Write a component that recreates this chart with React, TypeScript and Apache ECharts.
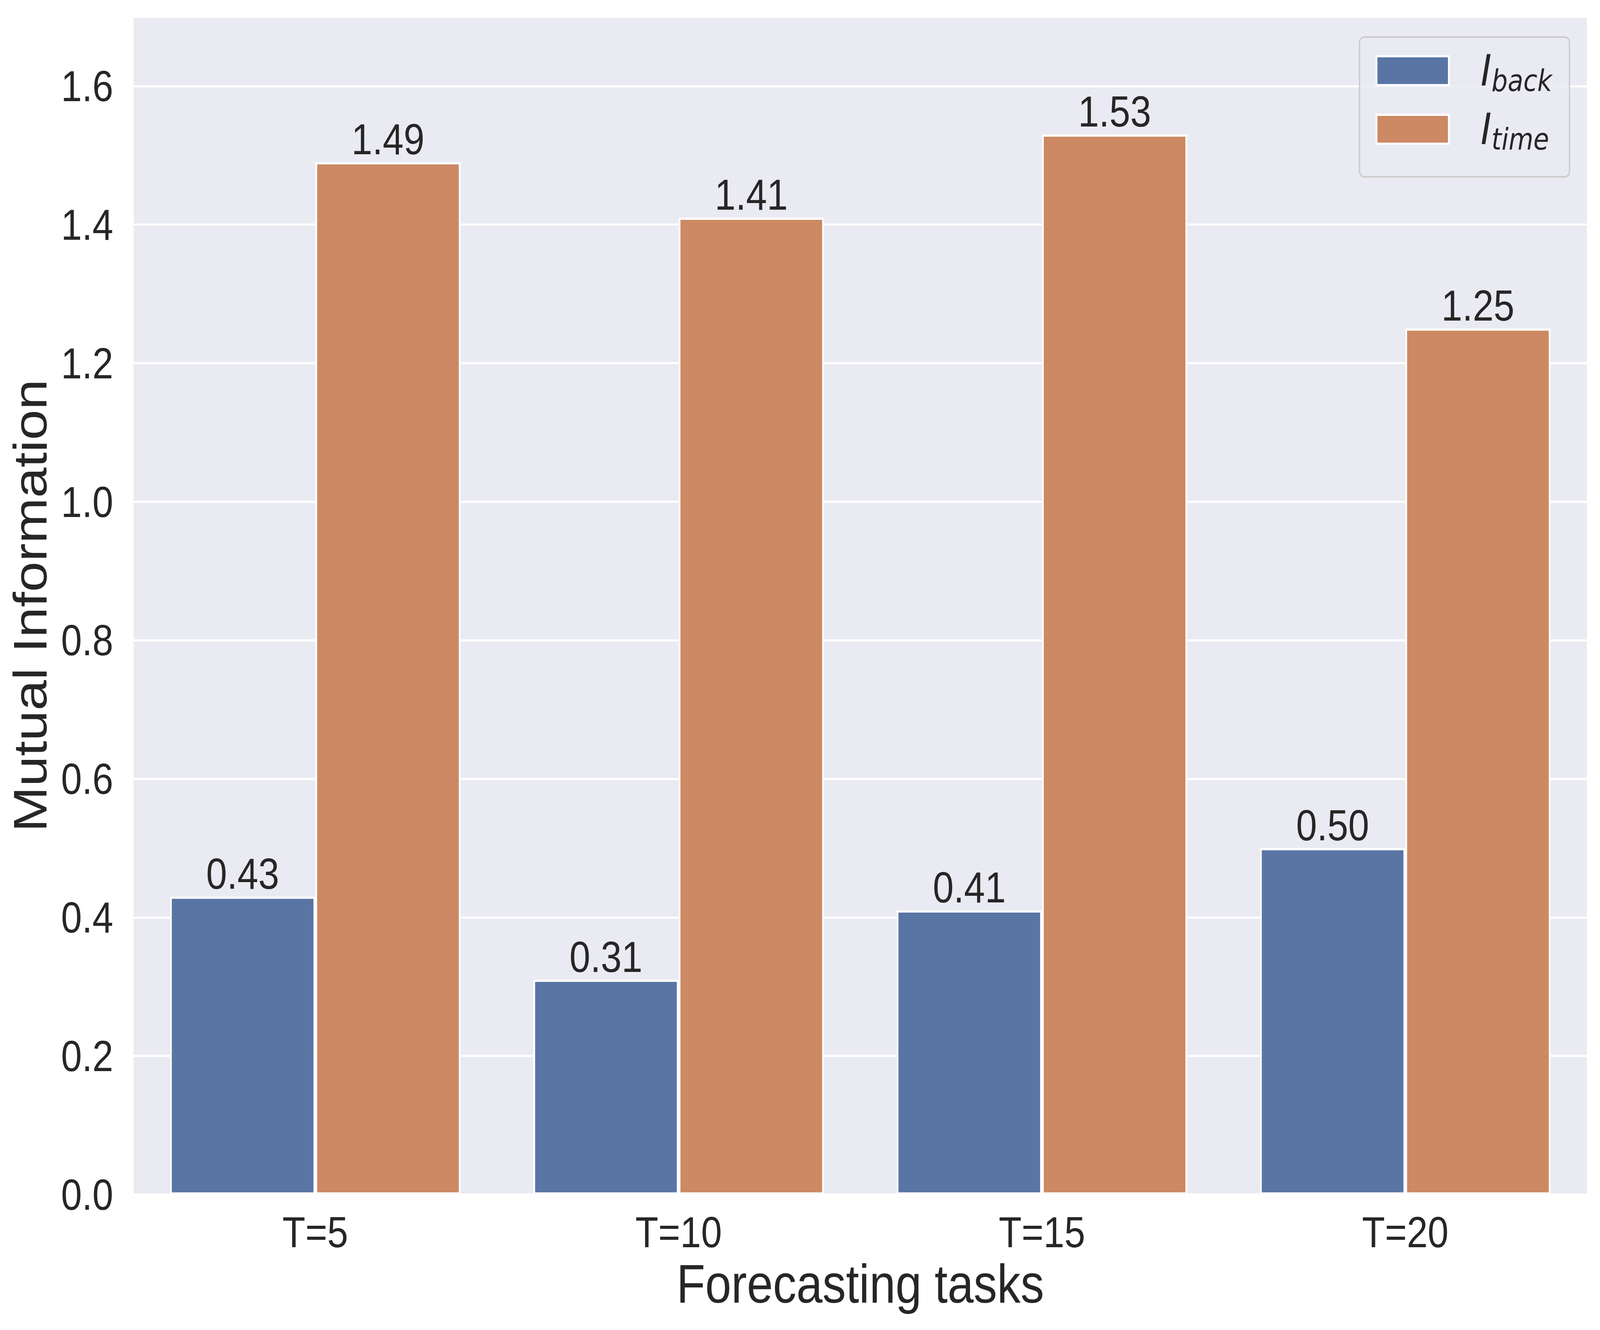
import React, { useEffect, useRef } from "react";
import * as echarts from "echarts";

const categories = ["T=5", "T=10", "T=15", "T=20"];
const iBackValues = [0.43, 0.31, 0.41, 0.5];
const iTimeValues = [1.49, 1.41, 1.53, 1.25];
const seriesNames = ["I_back", "I_time"];
const subscripts = ["back", "time"];
const yMin = 0;
const yMax = 1.7;
const yInterval = 0.2;

const W = 4777;
const H = 3406;
const TEXT = "#262626";
const FONT = "'Liberation Sans', Arial, sans-serif";
const MATH = "'DejaVu Sans', sans-serif";
const BLUE = "#5875a4";
const ORANGE = "#cc8963";

export default function App() {
  const ref = useRef<HTMLDivElement>(null);
  const sx = typeof window !== "undefined" && window.innerWidth < W ? window.innerWidth / W : 1;
  const sy = typeof window !== "undefined" && window.innerHeight < H ? window.innerHeight / H : 1;
  useEffect(() => {
    document.body.style.margin = "0";
    document.body.style.overflow = "hidden";
    const chart = echarts.init(ref.current!, null, { renderer: "svg", width: W, height: H });
    const barLabel = {
      show: true,
      position: "top",
      distance: 3,
      fontSize: 112,
      lineHeight: 112,
      fontFamily: FONT,
      color: TEXT,
      formatter: (p: any) => Number(p.value).toFixed(2),
    };
    chart.setOption({
      animation: false,
      backgroundColor: "#ffffff",
      grid: {
        left: 399,
        right: W - 4738,
        top: 43,
        bottom: H - 3059,
        show: true,
        backgroundColor: "#eaeaf2",
        borderWidth: 0,
        containLabel: false,
      },
      legend: {
        orient: "vertical",
        left: 4059,
        top: 95,
        padding: [31, 52, 58, 48],
        itemGap: 31,
        itemWidth: 216,
        itemHeight: 74,
        icon: "rect",
        selectedMode: false,
        backgroundColor: "rgba(234,234,242,0.8)",
        borderColor: "#cccccc",
        borderWidth: 4,
        borderRadius: 14,
        itemStyle: { borderColor: "#ffffff", borderWidth: 5.5 },
        data: seriesNames,
        formatter: (name: string) => {
          const idx = seriesNames.indexOf(name);
          return "{i|I}{s|" + subscripts[idx] + "}";
        },
        textStyle: {
          color: TEXT,
          rich: {
            i: {
              fontFamily: MATH,
              fontStyle: "italic",
              fontSize: 110,
              lineHeight: 128,
              color: TEXT,
              padding: [0, 0, 0, 90],
            },
            s: {
              fontFamily: MATH,
              fontStyle: "italic",
              fontSize: 76,
              lineHeight: 70,
              verticalAlign: "bottom",
              color: TEXT,
            },
          },
        },
      },
      xAxis: {
        type: "category",
        data: categories,
        name: "Forecasting tasks",
        nameLocation: "middle",
        nameGap: 159,
        nameTextStyle: { fontSize: 140, lineHeight: 140, fontFamily: FONT, color: TEXT },
        axisLine: { show: false },
        axisTick: { show: false },
        splitLine: { show: false },
        axisLabel: {
          fontSize: 112,
          lineHeight: 112,
          fontFamily: FONT,
          color: TEXT,
          margin: 40,
        },
      },
      yAxis: {
        type: "value",
        min: yMin,
        max: yMax,
        interval: yInterval,
        name: "Mutual Information",
        nameLocation: "middle",
        nameGap: 238,
        nameTextStyle: { fontSize: 140, lineHeight: 140, fontFamily: FONT, color: TEXT },
        axisLine: { show: false },
        axisTick: { show: false },
        splitLine: { show: true, lineStyle: { color: "#ffffff", width: 5.5 } },
        axisLabel: {
          fontSize: 112,
          lineHeight: 112,
          fontFamily: FONT,
          color: TEXT,
          margin: 61,
          showMaxLabel: false,
          formatter: (v: number) => (Math.abs(v - yMax) < 1e-9 ? "" : v.toFixed(1)),
        },
      },
      series: [
        {
          name: seriesNames[0],
          type: "bar",
          data: iBackValues,
          barGap: "0%",
          barCategoryGap: "20%",
          itemStyle: { color: BLUE, borderColor: "#ffffff", borderWidth: 5.5 },
          label: barLabel,
        },
        {
          name: seriesNames[1],
          type: "bar",
          data: iTimeValues,
          barGap: "0%",
          barCategoryGap: "20%",
          itemStyle: { color: ORANGE, borderColor: "#ffffff", borderWidth: 5.5 },
          label: barLabel,
        },
      ],
    });
    return () => chart.dispose();
  }, []);
  return (
    <div
      style={{
        position: "absolute",
        left: 0,
        top: 0,
        width: W,
        height: H,
        transform: `scale(${sx}, ${sy})`,
        transformOrigin: "0 0",
      }}
    >
      <div ref={ref} style={{ width: W, height: H }} />
    </div>
  );
}
